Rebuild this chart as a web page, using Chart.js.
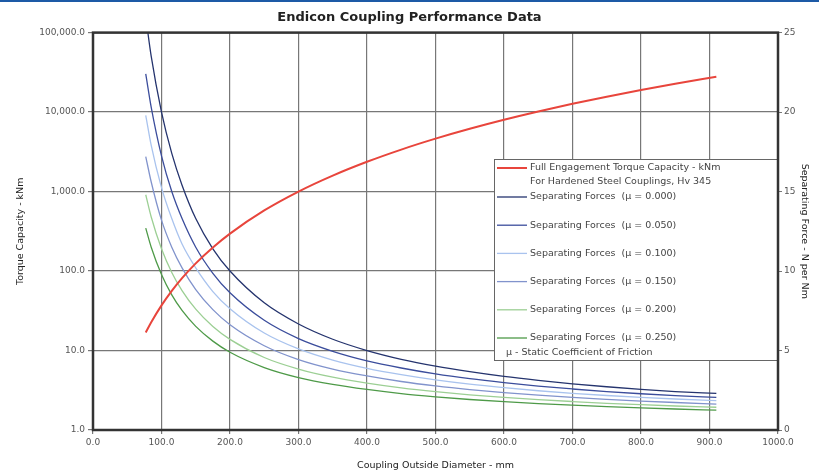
<!DOCTYPE html>
<html lang="en">
<head>
<meta charset="UTF-8">
<title>Endicon Coupling Performance Data</title>
<style>
  body { margin: 0; background: #fff; }
  #wrap { position: relative; width: 819px; height: 476px; }
  #topline { position: absolute; left: 0; top: 0; width: 819px; height: 2px; background: #1d5aa6; }
</style>
</head>
<body>
<div id="wrap">
  <canvas id="chart" width="819" height="476"></canvas>
  <div id="topline"></div>
</div>

<script src="https://cdn.jsdelivr.net/npm/chart.js"></script>
<script>
  // coupling outside diameter, mm
  const diameters = [77, 85, 100, 115, 130, 150, 175, 200, 250, 300, 350, 400, 450, 500, 550, 600, 650, 700, 750, 800, 850, 910];

  // full engagement torque capacity, kNm (left, log axis)
  const torque = [16.9, 22.7, 37.0, 56.3, 81.4, 125, 198, 296, 579, 1000, 1588, 2370, 3375, 4630, 6162, 8000, 10170, 12700, 15625, 18963, 22745, 27912];

  // separating forces, N per Nm (right axis), one list per friction coefficient
  const sep000 = [26.0, 23.5, 20.0, 17.4, 15.4, 13.3, 11.4, 10.0, 8.0, 6.67, 5.71, 5.0, 4.45, 4.02, 3.67, 3.37, 3.12, 2.9, 2.72, 2.56, 2.42, 2.3];
  const sep050 = [22.4, 20.3, 17.25, 15.0, 13.3, 11.5, 9.86, 8.63, 6.9, 5.75, 4.95, 4.35, 3.9, 3.53, 3.23, 2.98, 2.76, 2.58, 2.42, 2.28, 2.16, 2.05];
  const sep100 = [19.8, 17.9, 15.25, 13.3, 11.7, 10.2, 8.71, 7.63, 6.1, 5.1, 4.4, 3.88, 3.48, 3.15, 2.88, 2.66, 2.47, 2.31, 2.17, 2.05, 1.95, 1.85];
  const sep150 = [17.2, 15.6, 13.2, 11.5, 10.2, 8.83, 7.57, 6.62, 5.3, 4.43, 3.83, 3.4, 3.05, 2.77, 2.54, 2.35, 2.19, 2.05, 1.93, 1.82, 1.73, 1.63];
  const sep200 = [14.8, 13.4, 11.4, 9.91, 8.77, 7.6, 6.51, 5.7, 4.56, 3.83, 3.32, 2.95, 2.65, 2.41, 2.21, 2.05, 1.91, 1.79, 1.68, 1.59, 1.51, 1.43];
  const sep250 = [12.7, 11.5, 9.78, 8.5, 7.52, 6.52, 5.59, 4.89, 3.93, 3.3, 2.87, 2.55, 2.29, 2.09, 1.92, 1.78, 1.66, 1.56, 1.47, 1.39, 1.32, 1.25];

  const leftTicks = [1, 10, 100, 1000, 10000, 100000];
  const seriesLabels = [
    'Full Engagement Torque Capacity - kNm\nFor Hardened Steel Couplings, Hv 345',
    'Separating Forces  (\u03bc = 0.000)',
    'Separating Forces  (\u03bc = 0.050)',
    'Separating Forces  (\u03bc = 0.100)',
    'Separating Forces  (\u03bc = 0.150)',
    'Separating Forces  (\u03bc = 0.200)',
    'Separating Forces  (\u03bc = 0.250)'
  ];
  const legendNote = '\u03bc - Static Coefficient of Friction';

  const colors = ['#e8453c', '#25346e', '#3b4d9c', '#a9c3ee', '#8193cc', '#9ccf94', '#4e9a48'];
  const seriesValues = [torque, sep000, sep050, sep100, sep150, sep200, sep250];

  const tickFont = { family: 'DejaVu Sans', size: 9 };
  const titleFont = { family: 'DejaVu Sans', size: 9.5 };

  // legend box drawn inside the plot, like the original
  const boxLegend = {
    id: 'boxLegend',
    afterDatasetsDraw(chart) {
      const ctx = chart.ctx;
      const area = chart.chartArea;
      const x0 = 494, y0 = 159, y1 = 360;
      ctx.save();
      ctx.fillStyle = '#fff';
      ctx.fillRect(x0, y0, area.right - x0, y1 - y0);
      ctx.strokeStyle = '#666';
      ctx.lineWidth = 1;
      ctx.strokeRect(x0 + 0.5, y0 + 0.5, area.right - x0, y1 - y0);
      ctx.font = '9.5px "DejaVu Sans"';
      ctx.textBaseline = 'middle';
      chart.data.datasets.forEach((ds, i) => {
        const y = i === 0 ? 168 : 197 + (i - 1) * 28.2;
        ctx.strokeStyle = ds.borderColor;
        ctx.lineWidth = ds.borderWidth;
        ctx.beginPath();
        ctx.moveTo(497, y);
        ctx.lineTo(527, y);
        ctx.stroke();
        ctx.fillStyle = '#444';
        ds.label.split('\n').forEach((line, j) => ctx.fillText(line, 530, y + j * 14));
      });
      ctx.fillStyle = '#444';
      ctx.fillText(legendNote, 506, 353);
      ctx.restore();
    },
    afterDraw(chart) {
      const ctx = chart.ctx;
      const a = chart.chartArea;
      ctx.save();
      ctx.strokeStyle = '#333';
      ctx.lineWidth = 2.5;
      ctx.strokeRect(a.left, a.top, a.right - a.left, a.bottom - a.top);
      ctx.restore();
    }
  };

  const chart = new Chart(document.getElementById('chart'), {
    type: 'line',
    data: {
      datasets: seriesValues.map((vals, i) => ({
        label: seriesLabels[i],
        data: diameters.map((d, k) => ({ x: d, y: vals[k] })),
        borderColor: colors[i],
        borderWidth: i === 0 ? 2 : 1.3,
        pointRadius: 0,
        fill: false,
        cubicInterpolationMode: 'monotone',
        yAxisID: i === 0 ? 'y' : 'y2'
      }))
    },
    options: {
      responsive: false,
      animation: false,
      layout: { padding: 0 },
      plugins: {
        legend: { display: false },
        tooltip: { enabled: false },
        title: {
          display: true,
          text: 'Endicon Coupling Performance Data',
          color: '#222',
          font: { family: 'DejaVu Sans', size: 13, weight: 'bold' },
          padding: { top: 10, bottom: 7 }
        }
      },
      scales: {
        x: {
          type: 'linear',
          min: 0, max: 1000,
          ticks: { stepSize: 100, callback: v => v.toFixed(1), font: tickFont, color: '#555', maxRotation: 0, padding: 3 },
          grid: { color: '#777', lineWidth: 1.2, tickLength: 4 },
          border: { display: false },
          title: { display: true, text: 'Coupling Outside Diameter - mm', color: '#222', font: titleFont, padding: { top: 2, bottom: 5 } },
          afterFit(s) { s.height = 46; }
        },
        y: {
          type: 'logarithmic',
          position: 'left',
          min: 1, max: 100000,
          afterBuildTicks(s) { s.ticks = leftTicks.map(v => ({ value: v })); },
          ticks: {
            callback: v => Number(v).toLocaleString('en-US', { minimumFractionDigits: 1, maximumFractionDigits: 1 }),
            font: tickFont, color: '#555', padding: 3
          },
          grid: { color: '#777', lineWidth: 1.2, tickLength: 5 },
          border: { display: false },
          title: { display: true, text: 'Torque Capacity - kNm', color: '#222', font: titleFont, padding: { top: 15 } },
          afterFit(s) { s.width = 93; }
        },
        y2: {
          type: 'linear',
          position: 'right',
          min: 0, max: 25,
          ticks: { stepSize: 5, font: tickFont, color: '#555', padding: 2 },
          grid: { drawOnChartArea: false, color: '#777', tickLength: 4 },
          border: { display: false },
          title: { display: true, text: 'Separating Force - N per Nm', color: '#222', font: titleFont, padding: { top: 9 } },
          afterFit(s) { s.width = 41; }
        }
      }
    },
    plugins: [boxLegend]
  });
</script>
</body>
</html>
